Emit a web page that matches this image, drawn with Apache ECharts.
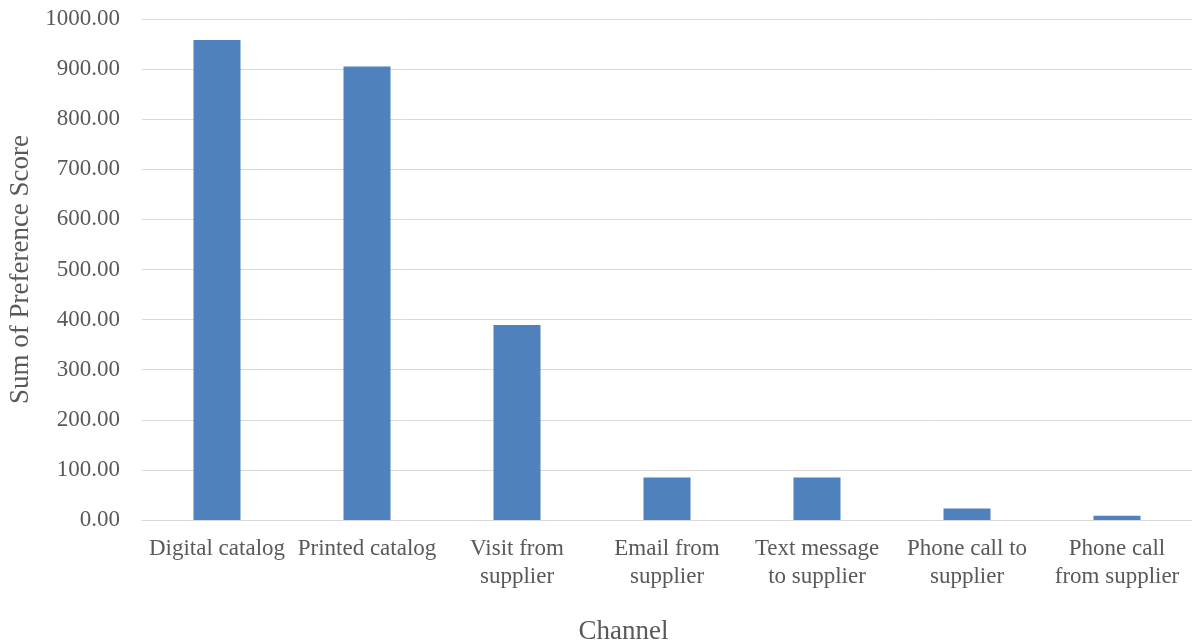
<!DOCTYPE html>
<html>
<head>
<meta charset="utf-8">
<script src="https://cdn.jsdelivr.net/npm/echarts@6/dist/echarts.min.js"></script>
<style>
html,body{margin:0;padding:0;background:#fff;}
#chart{width:1194px;height:643px;}
</style>
</head>
<body>
<div id="chart"></div>
<script>
const categories = ["Digital catalog", "Printed catalog", "Visit from\nsupplier", "Email from\nsupplier", "Text message\nto supplier", "Phone call to\nsupplier", "Phone call\nfrom supplier"];
const values = [958, 905, 389, 85, 85, 23, 8.5];
const yTicks = { min: 0, max: 1000, interval: 100 };

const chart = echarts.init(document.getElementById('chart'), null, { renderer: 'canvas' });
const font = '"Liberation Serif", "Times New Roman", serif';
chart.setOption({
  animation: false,
  backgroundColor: '#ffffff',
  grid: { left: 142, right: 2, top: 19, bottom: 123, containLabel: false, outerBoundsMode: 'none' },
  xAxis: {
    type: 'category',
    data: categories,
    name: 'Channel',
    nameLocation: 'middle',
    nameGap: 98,
    nameTextStyle: { fontFamily: font, fontSize: 27, color: '#595959', padding: [0, 87, 0, 0] },
    axisLine: { show: true, lineStyle: { color: '#d9d9d9', width: 1 } },
    axisTick: { show: false },
    axisLabel: { interval: 0, fontFamily: font, fontSize: 23, color: '#595959', lineHeight: 28, margin: 15, hideOverlap: false }
  },
  yAxis: {
    type: 'value',
    min: yTicks.min, max: yTicks.max, interval: yTicks.interval,
    name: 'Sum of Preference Score',
    nameLocation: 'middle',
    nameGap: 105,
    nameRotate: 90,
    nameTextStyle: { fontFamily: font, fontSize: 27, color: '#595959' },
    axisLine: { show: false },
    axisTick: { show: false },
    splitLine: { lineStyle: { color: '#d9d9d9', width: 1 } },
    axisLabel: { fontFamily: font, fontSize: 23, color: '#595959', margin: 22, formatter: v => v.toFixed(2) }
  },
  series: [{
    type: 'bar',
    data: values,
    barWidth: 47,
    itemStyle: { color: '#4f81bd' }
  }]
});
</script>
</body>
</html>
